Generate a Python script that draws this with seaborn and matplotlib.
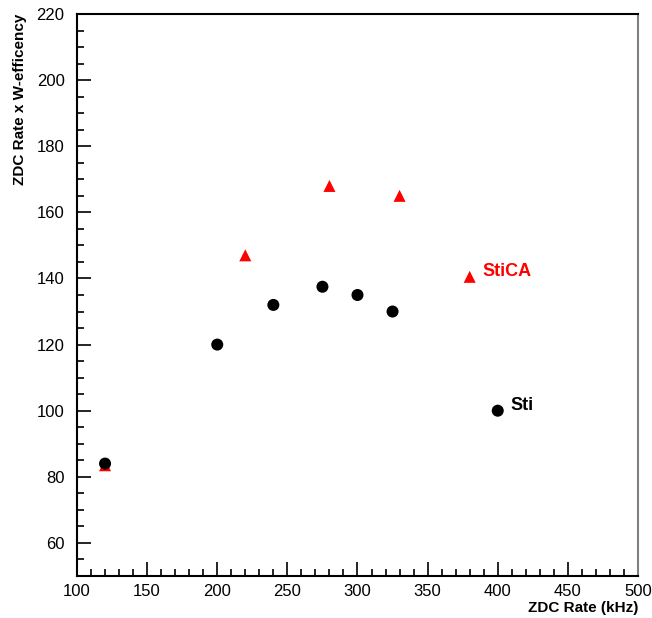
import pandas as pd
import seaborn as sns
import matplotlib.pyplot as plt
from matplotlib.ticker import MultipleLocator

sns.set_style('white')
plt.rcParams['font.family'] = ['Liberation Sans', 'DejaVu Sans']
plt.rcParams['text.color'] = 'black'
plt.rcParams['axes.labelcolor'] = 'black'
plt.rcParams['xtick.color'] = 'black'
plt.rcParams['ytick.color'] = 'black'

# Sti (black circles)
sti_rate = [120, 200, 240, 275, 300, 325, 400]
sti_eff = [84, 120, 132, 137.5, 135, 130, 100]

# StiCA (red triangles)
stica_rate = [120, 220, 280, 330, 380]
stica_eff = [83.5, 147, 168, 165, 140.5]

df = pd.concat([
    pd.DataFrame({'rate': stica_rate, 'eff': stica_eff, 'tracker': 'StiCA'}),
    pd.DataFrame({'rate': sti_rate, 'eff': sti_eff, 'tracker': 'Sti'}),
])

fig = plt.figure(figsize=(6.52, 6.18), dpi=100)
ax = fig.add_axes([0.1181, 0.068, 0.8604, 0.9093])

sns.scatterplot(data=df, x='rate', y='eff', hue='tracker', style='tracker',
                palette={'Sti': 'black', 'StiCA': 'red'},
                markers={'Sti': 'o', 'StiCA': '^'},
                s=75, linewidth=0, legend=False, ax=ax)

ax.text(389, 142, 'StiCA', color='red', fontsize=13, fontweight='bold', va='center')
ax.text(409, 101.5, 'Sti', color='black', fontsize=13, fontweight='bold', va='center')

ax.set_xlim(100, 500)
ax.set_ylim(50, 220)
ax.xaxis.set_major_locator(MultipleLocator(50))
ax.xaxis.set_minor_locator(MultipleLocator(10))
ax.yaxis.set_major_locator(MultipleLocator(20))
ax.yaxis.set_minor_locator(MultipleLocator(5))
ax.tick_params(which='both', direction='in', top=False, right=False,
               bottom=True, left=True, labelsize=12, width=1.2)
ax.tick_params(which='major', length=10)
ax.tick_params(which='minor', length=5)
ax.tick_params(axis='y', which='major', pad=9)
ax.tick_params(axis='x', which='major', pad=6)
ax.set_yticks(range(60, 221, 20))

for side in ['left', 'bottom', 'top']:
    ax.spines[side].set_color('black')
    ax.spines[side].set_linewidth(1.5)
ax.spines['right'].set_color('gray')
ax.spines['right'].set_linewidth(1.5)

ax.set_xlabel('ZDC Rate (kHz)', fontsize=11, fontweight='bold')
ax.xaxis.set_label_coords(1.0, -0.057)
ax.xaxis.label.set_horizontalalignment('right')
ax.xaxis.label.set_verticalalignment('center')
ax.set_ylabel('ZDC Rate x W-efficency', fontsize=11, fontweight='bold')
ax.yaxis.set_label_coords(-0.102, 1.0)
ax.yaxis.label.set_verticalalignment('center')
ax.yaxis.label.set_horizontalalignment('right')

fig.savefig('out.png', dpi=100)
